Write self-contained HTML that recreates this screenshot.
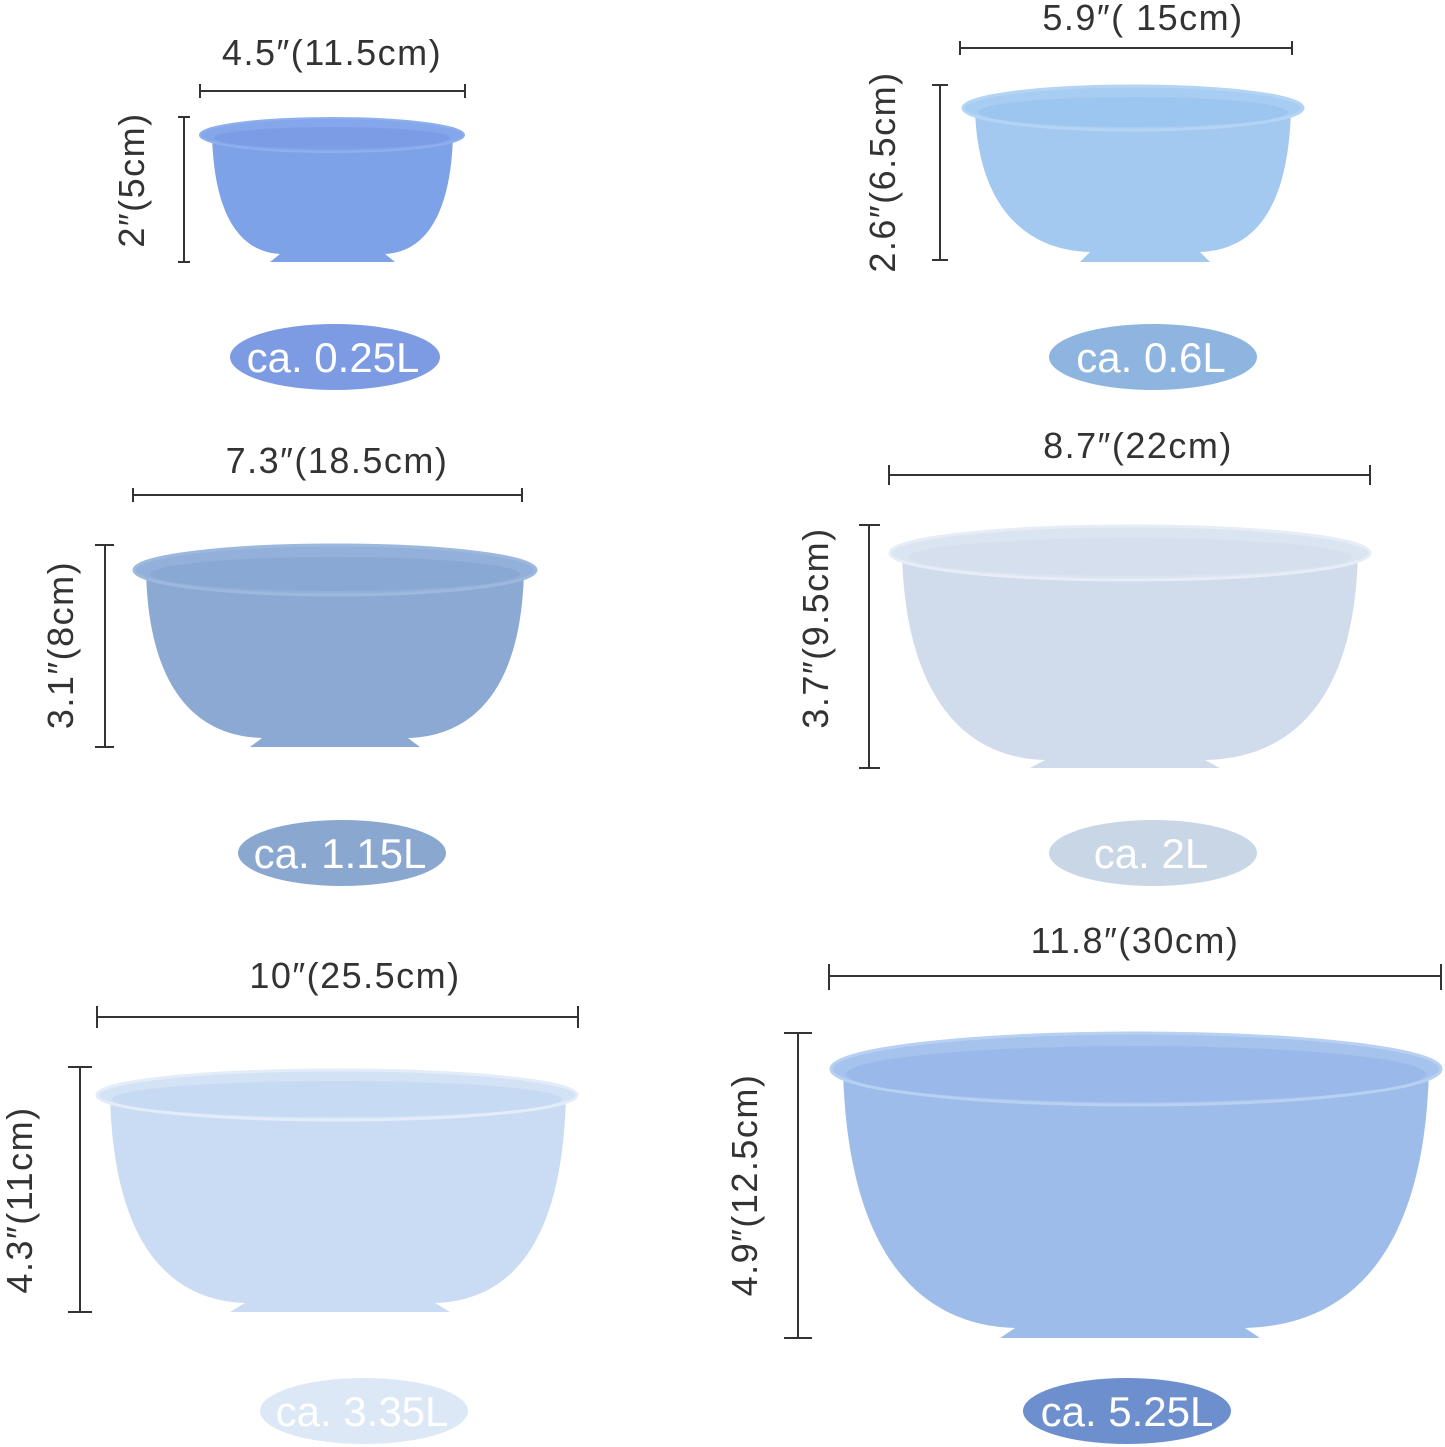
<!DOCTYPE html>
<html><head><style>html,body{margin:0;padding:0;background:#fff}svg{display:block}</style></head>
<body>
<svg width="1445" height="1447" xmlns="http://www.w3.org/2000/svg" font-family="Liberation Sans, sans-serif">
<g stroke="#333" stroke-width="2" fill="none">
<path d="M200 91H465M200 84V98M465 84V98"/>
<path d="M960 48H1292M960 41V55M1292 41V55"/>
<path d="M133 495H522M133 488V502M522 488V502"/>
<path d="M889 475H1370M889 465V485M1370 465V485"/>
<path d="M97 1017H578M97 1006V1028M578 1006V1028"/>
<path d="M829 976H1441M829 964V990M1441 964V990"/>
<path d="M184 117V262M178 117H190M178 262H190"/>
<path d="M940 85V260M932 85H948M932 260H948"/>
<path d="M105 545V747M95 545H114M95 747H114"/>
<path d="M869 525V768M859 525H880M859 768H880"/>
<path d="M80 1067V1312M68 1067H92M68 1312H92"/>
<path d="M798 1033V1338M784 1033H812M784 1338H812"/>
</g>
<g fill="#333" font-size="36" text-anchor="middle" letter-spacing="1.5">
<text x="332" y="65">4.5″(11.5cm)</text>
<text x="1143" y="30">5.9″( 15cm)</text>
<text x="337" y="473">7.3″(18.5cm)</text>
<text x="1138" y="458">8.7″(22cm)</text>
<text x="355" y="988">10″(25.5cm)</text>
<text x="1135" y="953">11.8″(30cm)</text>
<text transform="translate(144,180) rotate(-90)">2″(5cm)</text>
<text transform="translate(895,172) rotate(-90)">2.6″(6.5cm)</text>
<text transform="translate(73,645) rotate(-90)">3.1″(8cm)</text>
<text transform="translate(828,628) rotate(-90)">3.7″(9.5cm)</text>
<text transform="translate(32,1200) rotate(-90)">4.3″(11cm)</text>
<text transform="translate(757,1185) rotate(-90)">4.9″(12.5cm)</text>
</g>
<g>
<path d="M212 135 C214 215 240 252 280 254 L270 262 H395 L385 254 C425 252 451 215 453 135Z" fill="#7ea2e8"/>
<ellipse cx="332" cy="135" rx="132" ry="17" fill="#84a6ea" stroke="#8fb0ee" stroke-width="2"/>
<ellipse cx="332" cy="138" rx="118" ry="11" fill="#7a9de6"/>

<path d="M975 108 C977 200 1020 250 1090 252 L1080 262 H1210 L1200 252 C1260 250 1289 200 1291 108Z" fill="#a3c9f0"/>
<ellipse cx="1133" cy="108" rx="170" ry="22" fill="#a8cdf2" stroke="#b4d4f4" stroke-width="3"/>
<ellipse cx="1133" cy="112" rx="155" ry="15" fill="#9cc5f0"/>

<path d="M146 570 C148 680 190 736 262 738 L250 747 H420 L408 738 C480 736 522 680 524 570Z" fill="#8ca9d3"/>
<ellipse cx="335" cy="570" rx="201" ry="25" fill="#93b0da" stroke="#9db8de" stroke-width="3"/>
<ellipse cx="335" cy="574" rx="185" ry="17" fill="#8aa8d4"/>

<path d="M902 553 C905 690 960 758 1045 760 L1030 768 H1220 L1205 760 C1300 758 1355 690 1358 553Z" fill="#d0dcec"/>
<ellipse cx="1130" cy="553" rx="240" ry="27" fill="#dbe4f1" stroke="#e6edf6" stroke-width="3"/>
<ellipse cx="1130" cy="557" rx="222" ry="19" fill="#d5dfee"/>

<path d="M110 1095 C113 1230 160 1300 245 1303 L230 1312 H450 L435 1303 C520 1300 563 1230 566 1095Z" fill="#c9dcf3"/>
<ellipse cx="337" cy="1095" rx="240" ry="25" fill="#d3e2f5" stroke="#e3ecf8" stroke-width="3"/>
<ellipse cx="337" cy="1099" rx="225" ry="18" fill="#c6daf3"/>

<path d="M843 1069 C847 1240 910 1325 1015 1328 L1000 1338 H1260 L1245 1328 C1360 1325 1425 1240 1429 1069Z" fill="#9dbcea"/>
<ellipse cx="1136" cy="1069" rx="305" ry="36" fill="#a6c3ed" stroke="#b8d0f2" stroke-width="3"/>
<ellipse cx="1136" cy="1074" rx="290" ry="28" fill="#9ab9ea"/>
</g>
<g font-size="42" fill="#fff" text-anchor="middle">
<ellipse cx="335" cy="357" rx="105" ry="33" fill="#7c9be3"/>
<text x="333" y="372">ca. 0.25L</text>
<ellipse cx="1153" cy="357" rx="104" ry="33" fill="#8eb4e0"/>
<text x="1151" y="372">ca. 0.6L</text>
<ellipse cx="342" cy="853" rx="104" ry="33" fill="#8aa7cf"/>
<text x="340" y="868">ca. 1.15L</text>
<ellipse cx="1153" cy="853" rx="104" ry="33" fill="#c9d6e6"/>
<text x="1151" y="868">ca. 2L</text>
<ellipse cx="364" cy="1411" rx="104" ry="33" fill="#dde8f7"/>
<text x="362" y="1426">ca. 3.35L</text>
<ellipse cx="1127" cy="1411" rx="104" ry="33" fill="#6e8fcd"/>
<text x="1127" y="1426">ca. 5.25L</text>
</g>
</svg>
</body></html>
